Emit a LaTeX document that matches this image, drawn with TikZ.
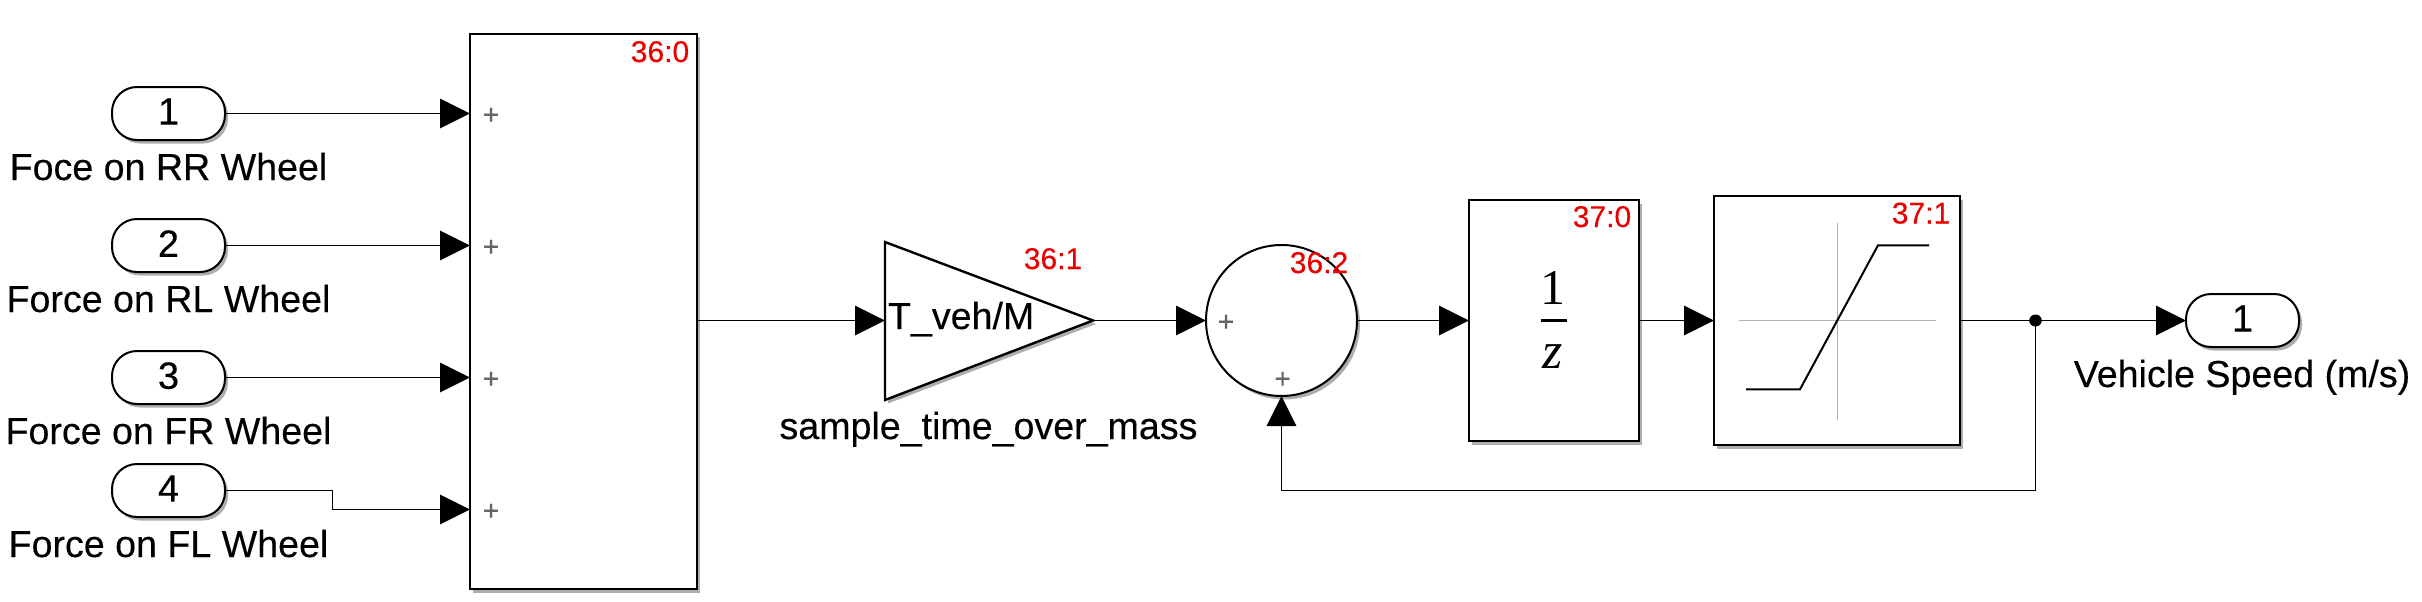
\documentclass[tikz,border=0pt]{standalone}
\usepackage{fontspec}
\setmainfont{Liberation Sans}[FakeBold=0.25]
\newfontfamily\mathserif{Liberation Serif}
\usetikzlibrary{arrows.meta,shadows,positioning}
\tikzset{
  softshadow/.style={drop shadow={shadow xshift=3pt,shadow yshift=-3.5pt,fill=black,opacity=.32}},
  block/.style={draw=black,line width=2.4pt,fill=white,inner sep=0pt,outer sep=0pt,softshadow},
  portbox/.style={block,line width=2pt,rounded corners=25pt,minimum width=113pt,minimum height=53pt,font=\fontsize{38}{40}\selectfont},
  sumcircle/.style={block,line width=2pt,circle,minimum size=151pt},
  conn/.style={line width=1.3pt,draw=black,-{Triangle[length=30pt,width=29.5pt,fill=black]}},
  wire/.style={line width=1.3pt,draw=black},
  lbl/.style={inner sep=0pt,outer sep=0pt,anchor=base,font=\fontsize{37.6}{40}\selectfont},
  idtag/.style={inner sep=0pt,outer sep=0pt,anchor=base,text=red!92!black,font=\fontsize{30}{32}\selectfont},
  signtag/.style={inner sep=0pt,outer sep=0pt,font=\fontsize{28}{30}\selectfont,text=black!60},
}
\begin{document}
\begin{tikzpicture}[x=1pt,y=-1pt]
\useasboundingbox[fill=white] (0,0) rectangle (2422,602);
% blocks
\node[portbox] (in1) at (168.5,113.5) {\raisebox{4pt}{1}};
\node[portbox] (in2) at (168.5,245.5) {\raisebox{4pt}{2}};
\node[portbox] (in3) at (168.5,377.5) {\raisebox{4pt}{3}};
\node[portbox] (in4) at (168.5,490.5) {\raisebox{4pt}{4}};
\node[block,minimum width=227pt,minimum height=555pt] (add) at (583.5,311.5) {};
\coordinate (gainin) at (885,320.5);
\coordinate (gaintop) at (885,242);
\coordinate (gainbot) at (885,400);
\coordinate (gaintip) at (1093,320.5);
\draw[block,line join=miter] (gaintop) -- (gaintip) -- (gainbot) -- cycle;
\node[sumcircle] (sum) at (1281.5,320.5) {};
\node[block,minimum width=170pt,minimum height=241pt] (unit) at (1554,320.5) {};
\node[block,minimum width=246pt,minimum height=249pt] (sat) at (1837,320.5) {};
\node[portbox] (out) at (2242.5,320.5) {\raisebox{4pt}{1}};
% connectors
\draw[conn] (in1.east) -- (in1.east -| add.west);
\draw[conn] (in2.east) -- (in2.east -| add.west);
\draw[conn] (in3.east) -- (in3.east -| add.west);
\coordinate (jog1) at (332.5,490.5);
\coordinate (jog2) at (332.5,509.5);
\draw[conn] (in4.east) -- (jog1) -- (jog2) -- (jog2 -| add.west);
\draw[conn] (add.east |- gainin) -- (gainin);
\draw[conn] (gaintip) -- (sum.west |- gaintip);
\draw[conn] (sum.east) -- (unit.west |- sum.east);
\draw[conn] (unit.east |- sat.east) -- (sat.west);
\coordinate (branch) at (2035.5,320.5);
\draw[conn] (sat.east) -- (out.west);
\fill[black] (branch) ellipse [x radius=6.3pt,y radius=6pt];
\coordinate (fbcorner) at (2035.5,490.5);
\draw[conn] (branch) -- (fbcorner) -- (fbcorner -| sum.south) -- (sum.south);
% plus signs
\node[signtag] (p1) at (491,116) {+};
\node[signtag] (p2) at (491,248) {+};
\node[signtag] (p3) at (491,380) {+};
\node[signtag] (p4) at (491,512) {+};
\node[signtag] (p5) at (1226,323) {+};
\node[signtag] (p6) at (1282.6,380) {+};
% texts
\node[lbl] (t1) at (168.5,180) {Foce on RR Wheel};
\node[lbl] (t2) at (168.5,312) {Force on RL Wheel};
\node[lbl] (t3) at (168.5,444) {Force on FR Wheel};
\node[lbl] (t4) at (168.5,557) {Force on FL Wheel};
\node[lbl,anchor=base west] (t5) at (888,329) {T\_veh/M};
\node[lbl] (t6) at (988.5,439) {sample\_time\_over\_mass};
\node[lbl] (t7) at (2242,387) {Vehicle Speed (m/s)};
\node[idtag] (id0) at (660,62) {36:0};
\node[idtag] (id1) at (1053,269) {36:1};
\node[idtag] (id2) at (1319,273) {36:2};
\node[idtag] (id3) at (1602,227) {37:0};
\node[idtag] (id4) at (1921,223.5) {37:1};
% unit delay
\node[inner sep=0pt,anchor=base,font=\fontsize{50}{52}\selectfont\mathserif] (one) at (1553,304) {1};
\draw[line width=3pt] (1541,320.5) -- (1567,320.5);
\node[inner sep=0pt,anchor=base,font=\fontsize{52}{54}\selectfont\mathserif\itshape] (zed) at (1553,368) {z};
% saturation
\draw[line width=1.5pt,draw=black!30] (1739,320.5) -- (1936,320.5);
\draw[line width=1.5pt,draw=black!30] (1837.5,222.7) -- (1837.5,420);
\draw[line width=2pt] (1746,389.3) -- (1800,389.3) -- (1878,245.3) -- (1929,245.3);
\end{tikzpicture}
\end{document}
